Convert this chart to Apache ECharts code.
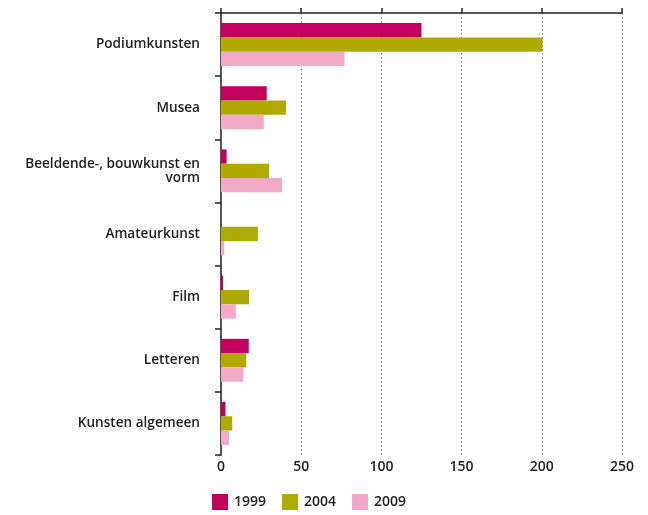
<!DOCTYPE html>
<html><head><meta charset="utf-8">
<script src="https://cdn.jsdelivr.net/npm/echarts@6/dist/echarts.min.js"></script>
<style>html,body{margin:0;padding:0;background:#fff}#c{width:648px;height:515px}</style>
</head><body><div id="c"></div>
<script>
const categories = ['Podiumkunsten','Musea','Beeldende-, bouwkunst en vorm','Amateurkunst','Film','Letteren','Kunsten algemeen'];
const years = ['1999','2004','2009'];
const v1999 = [125, 28.5, 3.5, 0, 1.3, 17.3, 2.8];
const v2004 = [200.5, 40.5, 30, 23, 17.5, 15.7, 7];
const v2009 = [77, 26.7, 38, 2, 9.2, 14, 5];
const xTicks = {min: 0, max: 250, interval: 50};
const colors = ['#c4005e', '#aeaa00', '#f2a9c8'];

const font = 'Open Sans';
const chart = echarts.init(document.getElementById('c'));
const series = [v1999, v2004, v2009].map((d, i) => ({
  name: years[i], type: 'bar', data: d, barCategoryGap: '32%', barGap: '0%',
  itemStyle: {color: colors[i]}, emphasis: {disabled: true}, xAxisIndex: 0
}));
chart.setOption({
  animation: false,
  color: colors,
  grid: {left: 221, right: 26, top: 13, bottom: 60, containLabel: false},
  legend: {
    left: 207, top: 489, itemWidth: 16, itemHeight: 16, itemGap: 16, icon: 'rect',
    data: years,
    textStyle: {fontFamily: font, fontSize: 14, fontWeight: 600, color: '#222', padding: [0,0,0,1]}
  },
  xAxis: [{
    type: 'value', position: 'bottom', min: xTicks.min, max: xTicks.max, interval: xTicks.interval,
    axisLine: {show: false}, axisTick: {show: false},
    axisLabel: {fontFamily: font, fontSize: 14, fontWeight: 600, color: '#222', margin: 5},
    splitLine: {show: true, lineStyle: {color: '#777', type: [1.5, 2.5], width: 1}}
  }, {
    type: 'value', position: 'top', min: xTicks.min, max: xTicks.max, interval: xTicks.interval,
    axisLine: {show: true, onZero: false, lineStyle: {color: '#222', width: 1.5}},
    axisTick: {show: true, length: 5, lineStyle: {color: '#222', width: 1.5}},
    axisLabel: {show: false}, splitLine: {show: false}
  }],
  yAxis: {
    type: 'category', data: categories, inverse: true,
    axisLine: {show: true, lineStyle: {color: '#555', width: 2}},
    axisTick: {show: true, length: 6, lineStyle: {color: '#222', width: 1.5}},
    axisLabel: {fontFamily: font, fontSize: 13.6, fontWeight: 600, color: '#222', margin: 21,
      lineHeight: 14, align: 'right',
      formatter: v => v.length > 24 ? v.replace(/ (\S+)$/, '\n$1') : v}
  },
  series: series
});
</script></body></html>
